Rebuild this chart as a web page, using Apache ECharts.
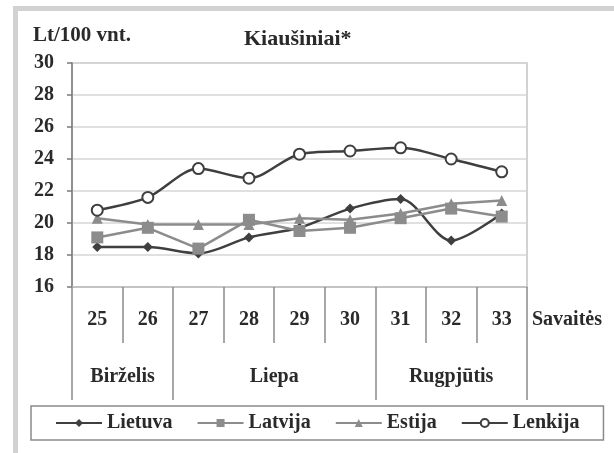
<!DOCTYPE html>
<html>
<head>
<meta charset="utf-8">
<script src="https://cdn.jsdelivr.net/npm/echarts@6/dist/echarts.min.js"></script>
<style>
  html, body { margin: 0; padding: 0; background: #fff; }
  #chart { width: 614px; height: 453px; }
</style>
</head>
<body>
<div id="chart"></div>
<script>
  // savaitės ir mėnesiai
  var weeks = ['25', '26', '27', '28', '29', '30', '31', '32', '33'];
  var months = ['Birželis', 'Liepa', 'Rugpjūtis'];
  var monthWeeks = [2, 4, 3];
  var yTicks = [16, 18, 20, 22, 24, 26, 28, 30];

  // kainos, Lt/100 vnt.
  var lietuva = [18.5, 18.5, 18.1, 19.1, 19.7, 20.9, 21.5, 18.9, 20.6];
  var latvija = [19.1, 19.7, 18.4, 20.2, 19.5, 19.7, 20.3, 20.9, 20.4];
  var estija = [20.3, 19.9, 19.9, 19.9, 20.3, 20.2, 20.6, 21.2, 21.4];
  var lenkija = [20.8, 21.6, 23.4, 22.8, 24.3, 24.5, 24.7, 24.0, 23.2];

  var font = 'Liberation Serif, Times New Roman, serif';
  var txt = '#2a2a2a';
  var dark = '#3f3f3f';
  var gray = '#8c8c8c';

  // month boundaries (category index where a month starts)
  var monthStarts = [];
  var acc = 0;
  for (var m = 0; m < monthWeeks.length; m++) {
    monthStarts.push(acc);
    acc += monthWeeks[m];
  }

  var myChart = echarts.init(document.getElementById('chart'));
  var option = {
    backgroundColor: '#fff',
    animation: false,
    title: [{
      text: 'Kiaušiniai*',
      left: 244,
      top: 28,
      padding: 0,
      textStyle: { fontFamily: font, fontSize: 22, fontWeight: 'bold', color: txt }
    }, {
      text: 'Lt/100 vnt.',
      left: 33,
      top: 25,
      padding: 0,
      textStyle: { fontFamily: font, fontSize: 21, fontWeight: 'bold', color: txt }
    }],
    grid: {
      left: 72, right: 87, top: 63, bottom: 166,
      show: true, borderColor: '#c4c4c4', borderWidth: 1.5
    },
    legend: {
      left: 31, top: 406,
      padding: [7, 24, 7, 24],
      borderColor: '#8a8a8a', borderWidth: 1.5,
      itemWidth: 46, itemHeight: 10, itemGap: 24,
      textStyle: { fontFamily: font, fontSize: 20, fontWeight: 'bold', color: txt },
      data: ['Lietuva', 'Latvija', 'Estija', 'Lenkija']
    },
    xAxis: [{
      type: 'category',
      data: weeks,
      boundaryGap: true,
      axisLine: { lineStyle: { color: '#bdbdbd', width: 1.5 } },
      axisTick: { show: true, length: 56, lineStyle: { color: '#8a8a8a', width: 1.5 } },
      axisLabel: { margin: 23, fontFamily: font, fontSize: 20, fontWeight: 'bold', color: txt }
    }, {
      type: 'category',
      data: weeks,
      position: 'bottom',
      boundaryGap: true,
      axisLine: { show: false },
      axisTick: {
        show: true,
        length: 113,
        interval: function (idx) { return monthStarts.indexOf(idx) >= 0; },
        lineStyle: { color: '#8a8a8a', width: 1.5 }
      },
      axisLabel: { show: false }
    }],
    yAxis: {
      type: 'value',
      min: yTicks[0],
      max: yTicks[yTicks.length - 1],
      interval: 2,
      axisLine: { show: true, lineStyle: { color: '#7a7a7a', width: 1.5 } },
      axisTick: { show: true, length: 5, lineStyle: { color: '#7a7a7a', width: 1.5 } },
      axisLabel: { margin: 18, fontFamily: font, fontSize: 20, fontWeight: 'bold', color: txt },
      splitLine: { lineStyle: { color: '#d6d6d6', width: 1.5 } }
    },
    series: [{
      name: 'Lietuva', type: 'line', data: lietuva, smooth: 0.3,
      symbol: 'diamond', symbolSize: 10,
      lineStyle: { color: dark, width: 2.5 },
      itemStyle: { color: dark }
    }, {
      name: 'Latvija', type: 'line', data: latvija,
      symbol: 'rect', symbolSize: 12,
      lineStyle: { color: gray, width: 2.5 },
      itemStyle: { color: gray }
    }, {
      name: 'Estija', type: 'line', data: estija,
      symbol: 'triangle', symbolSize: 11,
      lineStyle: { color: gray, width: 2.5 },
      itemStyle: { color: gray }
    }, {
      name: 'Lenkija', type: 'line', data: lenkija, smooth: 0.3,
      symbol: 'circle', symbolSize: 11, z: 3,
      lineStyle: { color: dark, width: 2.5 },
      itemStyle: { color: '#fff', borderColor: dark, borderWidth: 2 }
    }]
  };
  myChart.setOption(option);

  // outer frame, axis caption and month labels positioned from the category axis
  var graphics = [
    { type: 'rect', shape: { x: 13, y: 6, width: 601, height: 5 }, style: { fill: '#d2d2d2' }, silent: true },
    { type: 'rect', shape: { x: 13, y: 6, width: 5, height: 447 }, style: { fill: '#d2d2d2' }, silent: true }
  ];
  var lastX = myChart.convertToPixel({ xAxisIndex: 0 }, weeks[weeks.length - 1]);
  var band = lastX - myChart.convertToPixel({ xAxisIndex: 0 }, weeks[weeks.length - 2]);
  graphics.push({
    type: 'text',
    x: lastX + band / 2 + 5,
    y: 320,
    style: {
      text: 'Savaitės', fontFamily: font, fontSize: 20, fontWeight: 'bold', fill: txt,
      align: 'left', verticalAlign: 'middle'
    }
  });
  for (var k = 0; k < months.length; k++) {
    var first = myChart.convertToPixel({ xAxisIndex: 0 }, weeks[monthStarts[k]]);
    var last = myChart.convertToPixel({ xAxisIndex: 0 }, weeks[monthStarts[k] + monthWeeks[k] - 1]);
    graphics.push({
      type: 'text',
      x: (first + last) / 2,
      y: 377,
      style: {
        text: months[k], fontFamily: font, fontSize: 20, fontWeight: 'bold', fill: txt,
        align: 'center', verticalAlign: 'middle'
      }
    });
  }
  myChart.setOption({ graphic: graphics });
</script>
</body>
</html>
